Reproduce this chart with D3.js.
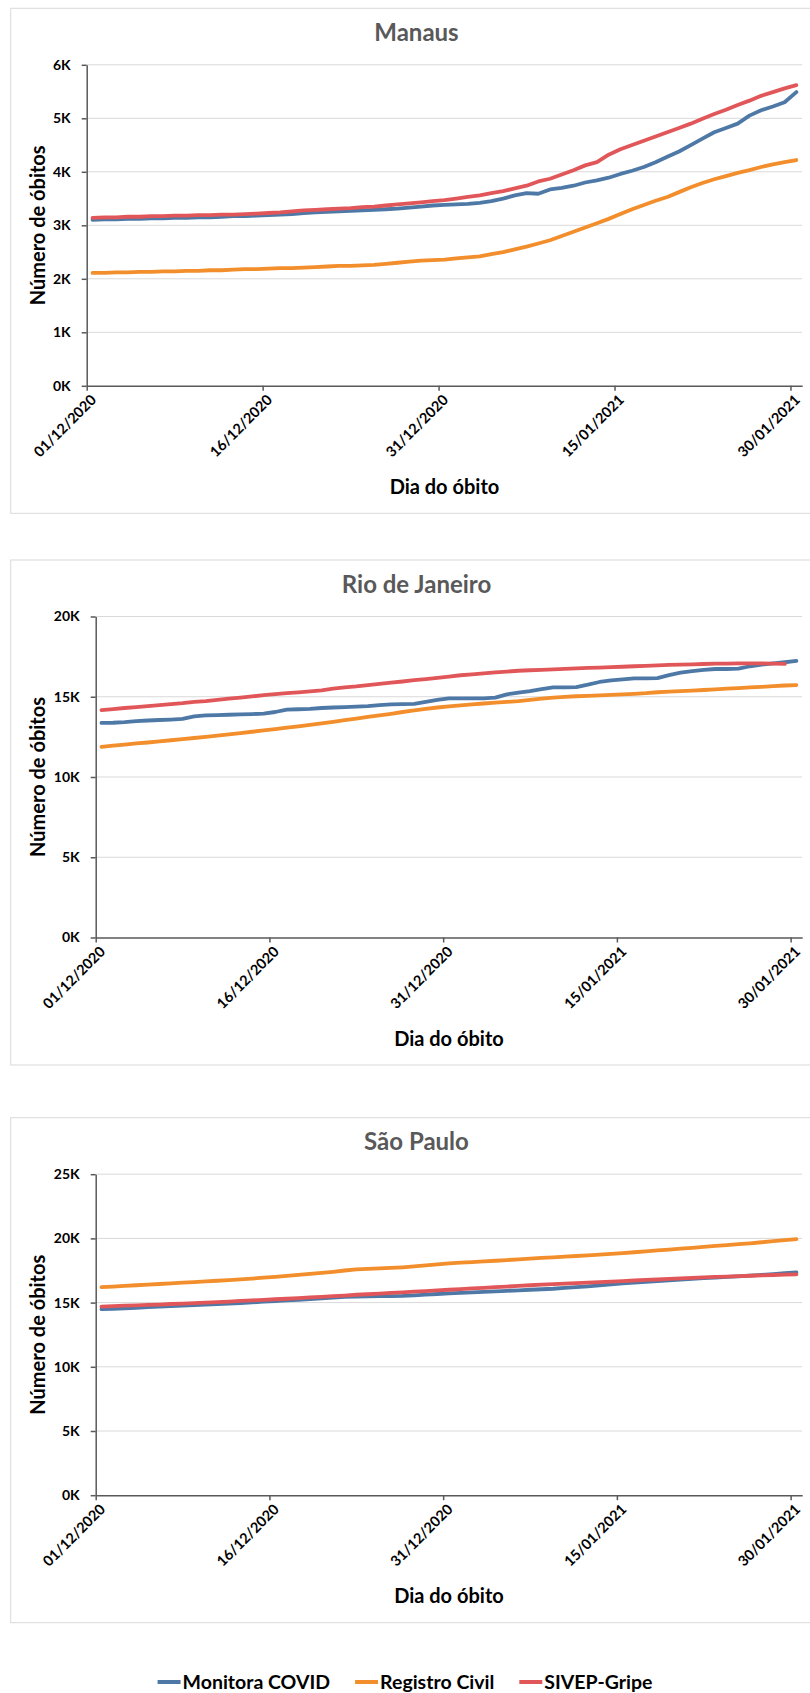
<!DOCTYPE html>
<html lang="pt">
<head>
<meta charset="utf-8">
<title>Óbitos acumulados</title>
<script src="https://d3js.org/d3.v7.min.js"></script>
<style>
  body { margin: 0; background: #fff; }
  svg text { font-family: Lato, "Open Sans", sans-serif; font-weight: bold; }
</style>
</head>
<body>
<script>
// x axis: one category per day, 01/12/2020 .. 30/01/2021
var tickDays = [0, 15, 30, 45, 60];
var tickLabels = ["01/12/2020", "16/12/2020", "31/12/2020", "15/01/2021", "30/01/2021"];
var seriesNames = ["Monitora COVID", "Registro Civil", "SIVEP-Gripe"];

// Manaus
var manausMonitora = [3100,3110,3110,3120,3120,3130,3130,3140,3140,3150, 3150,3160,3170,3170,3180,3190,3200,3210,3230,3240,
  3250,3260,3270,3280,3290,3300,3310,3330,3350,3370, 3380,3390,3400,3420,3450,3500,3560,3600,3590,3670,
  3700,3740,3800,3840,3890,3960,4020,4090,4180,4280, 4380,4500,4620,4740,4820,4900,5050,5150,5220,5300,5490];
var manausRegistro = [2110,2110,2120,2120,2130,2130,2140,2140,2150,2150, 2160,2160,2170,2180,2180,2190,2200,2200,2210,2220,
  2230,2240,2240,2250,2260,2280,2300,2320,2340,2350, 2360,2380,2400,2420,2460,2500,2550,2600,2660,2720,
  2800,2880,2960,3040,3120,3210,3300,3380,3460,3530, 3620,3710,3790,3860,3920,3980,4030,4090,4140,4180,4220];
var manausSivep = [3140,3150,3150,3160,3160,3170,3170,3180,3180,3190, 3190,3200,3200,3210,3220,3230,3240,3260,3280,3290,
  3300,3310,3320,3340,3350,3370,3390,3410,3430,3450, 3470,3500,3530,3560,3600,3640,3690,3740,3820,3870,
  3950,4030,4120,4180,4320,4420,4500,4580,4660,4740, 4820,4900,4990,5080,5160,5250,5330,5420,5490,5560,5620];

// Rio de Janeiro
var rioMonitora = [13370,13380,13420,13480,13520,13550,13580,13620,13780,13840, 13860,13880,13900,13920,13950,14050,14200,14220,14250,14300,
  14330,14350,14380,14420,14480,14520,14540,14560,14680,14800, 14900,14900,14900,14900,14950,15150,15250,15350,15480,15580,
  15580,15600,15750,15920,16020,16080,16150,16150,16160,16350, 16500,16600,16680,16730,16730,16750,16900,17000,17080,17150,17230];
var rioRegistro = [11880,11950,12020,12090,12150,12220,12290,12360,12430,12500, 12580,12660,12740,12820,12900,12980,13070,13160,13250,13340,
  13440,13540,13640,13740,13840,13940,14050,14150,14240,14330, 14400,14460,14520,14580,14630,14680,14730,14800,14880,14940,
  14990,15030,15060,15090,15120,15150,15180,15220,15280,15320, 15350,15380,15420,15460,15500,15540,15580,15620,15660,15700,15730];
var rioSivep = [14170,14230,14300,14360,14420,14480,14540,14600,14680,14730, 14800,14880,14950,15020,15100,15170,15220,15270,15330,15400,
  15500,15580,15640,15720,15800,15880,15950,16030,16100,16180, 16260,16340,16400,16460,16520,16570,16620,16650,16680,16710,
  16740,16770,16800,16820,16840,16870,16900,16930,16960,16980, 17000,17020,17040,17060,17070,17080,17080,17080,17070,17050];

// São Paulo
var spMonitora = [14490,14520,14560,14600,14640,14680,14720,14760,14800,14840, 14880,14920,14970,15020,15070,15120,15170,15220,15270,15330,
  15390,15450,15470,15480,15500,15510,15530,15570,15620,15670, 15720,15760,15800,15840,15880,15920,15960,16000,16040,16080,
  16140,16200,16270,16340,16420,16500,16560,16620,16680,16740, 16800,16850,16900,16950,17000,17040,17100,17160,17220,17290,17350];
var spRegistro = [16200,16250,16300,16350,16400,16450,16500,16550,16600,16650, 16700,16750,16810,16870,16940,17010,17080,17160,17240,17320,
  17400,17500,17580,17620,17660,17700,17750,17820,17900,17980, 18060,18110,18160,18210,18260,18310,18370,18420,18480,18530,
  18580,18630,18680,18740,18800,18860,18920,18990,19060,19130, 19200,19270,19340,19410,19480,19550,19620,19700,19780,19860,19950];
var spSivep = [14690,14730,14760,14790,14820,14850,14890,14920,14960,15000, 15040,15080,15130,15170,15210,15260,15300,15350,15400,15450,
  15500,15550,15610,15650,15700,15750,15800,15850,15900,15960, 16000,16050,16100,16150,16200,16250,16300,16350,16400,16440,
  16480,16520,16560,16600,16640,16680,16720,16770,16800,16840, 16880,16920,16960,17000,17030,17060,17090,17120,17150,17180,17200];

var colors = ["#4e79a7", "#f28e2b", "#e15759"];

var panels = [
  { title: "Manaus", top: 8.3, left: 86.7, yMax: 6000, yStep: 1000, series: [manausMonitora, manausRegistro, manausSivep] },
  { title: "Rio de Janeiro", top: 560, left: 95.7, yMax: 20000, yStep: 5000, series: [rioMonitora, rioRegistro, rioSivep] },
  { title: "São Paulo", top: 1117.7, left: 95.7, yMax: 25000, yStep: 5000, series: [spMonitora, spRegistro, spSivep] }
];

var w = 810, h = 1693;
var plotRight = 802.2;

var svg = d3.select("body").append("svg")
    .attr("width", w)
    .attr("height", h);

panels.forEach(function(p) {
  var g = svg.append("g");

  // chart frame (runs past the right edge like the original crop)
  g.append("rect")
      .attr("x", 10.7).attr("y", p.top)
      .attr("width", 840).attr("height", 505)
      .attr("fill", "#fff")
      .attr("stroke", "#d9d9d9")
      .attr("stroke-width", 1);

  var x = d3.scaleLinear().domain([0, 61]).range([p.left, plotRight]);
  var y = d3.scaleLinear().domain([0, p.yMax]).range([p.top + 377.5, p.top + 56.5]);
  var yTicks = d3.range(0, p.yMax + 1, p.yStep);

  // gridlines
  g.append("g").selectAll("line")
    .data(yTicks.slice(1))
    .enter().append("line")
      .attr("x1", p.left).attr("x2", plotRight)
      .attr("y1", function(d) { return y(d); })
      .attr("y2", function(d) { return y(d); })
      .attr("stroke", "#d9d9d9")
      .attr("stroke-width", 1);

  // y axis
  var ya = g.append("g")
      .attr("transform", "translate(" + p.left + ",0)")
      .call(d3.axisLeft(y)
        .tickValues(yTicks)
        .tickSize(5)
        .tickSizeOuter(0)
        .tickPadding(11)
        .tickFormat(function(d) { return (d / 1000) + "K"; }));
  ya.selectAll("text").attr("font-size", "14px").attr("fill", "#000").attr("font-family", null);

  // x axis
  var xa = g.append("g")
      .attr("transform", "translate(0," + y(0) + ")")
      .call(d3.axisBottom(x)
        .tickValues(tickDays)
        .tickSize(5)
        .tickSizeOuter(0)
        .tickFormat(function(d, i) { return tickLabels[i]; }));
  xa.selectAll("text")
      .attr("x", 0).attr("y", 0).attr("dy", 0)
      .attr("text-anchor", "end")
      .attr("transform", "translate(10,15) rotate(-45)")
      .attr("font-size", "14.5px")
      .attr("fill", "#000")
      .attr("font-family", null);

  [ya, xa].forEach(function(a) {
    a.select(".domain").attr("stroke", "#595959").attr("stroke-width", 1.5);
    a.selectAll(".tick line").attr("stroke", "#595959").attr("stroke-width", 1.5);
  });

  // series
  var line = d3.line()
      .x(function(d, i) { return x(i + 0.5); })
      .y(function(d) { return y(d); });

  p.series.forEach(function(s, k) {
    g.append("path")
        .datum(s)
        .attr("d", line)
        .attr("fill", "none")
        .attr("stroke", colors[k])
        .attr("stroke-width", 3.8)
        .attr("stroke-linejoin", "round")
        .attr("stroke-linecap", "round");
  });

  // titles
  g.append("text")
      .attr("x", 416.5).attr("y", p.top + 32.5)
      .attr("text-anchor", "middle")
      .attr("font-size", "24px")
      .attr("fill", "#595959")
      .text(p.title);

  g.append("text")
      .attr("x", (p.left + plotRight) / 2).attr("y", p.top + 485.5)
      .attr("text-anchor", "middle")
      .attr("font-size", "20px")
      .attr("fill", "#000")
      .text("Dia do óbito");

  g.append("text")
      .attr("transform", "translate(45," + (y(0) + y(p.yMax)) / 2 + ") rotate(-90)")
      .attr("text-anchor", "middle")
      .attr("font-size", "20px")
      .attr("fill", "#000")
      .text("Número de óbitos");
});

// legend, centred under the charts
var legend = svg.append("g");
var items = legend.selectAll("g")
  .data(seriesNames)
  .enter().append("g");
items.append("line")
    .attr("x1", 0).attr("x2", 23)
    .attr("y1", 0).attr("y2", 0)
    .attr("stroke", function(d, i) { return colors[i]; })
    .attr("stroke-width", 4);
items.append("text")
    .attr("x", 25)
    .attr("dy", "0.36em")
    .attr("font-size", "19.5px")
    .attr("fill", "#000")
    .text(function(d) { return d; });

var offs = [], total = 0;
items.each(function() {
  var wd = 25 + d3.select(this).select("text").node().getComputedTextLength();
  offs.push(total);
  total += wd + 25;
});
total -= 25;
items.attr("transform", function(d, i) { return "translate(" + (405 - total / 2 + offs[i]) + ",1682)"; });
</script>
</body>
</html>
